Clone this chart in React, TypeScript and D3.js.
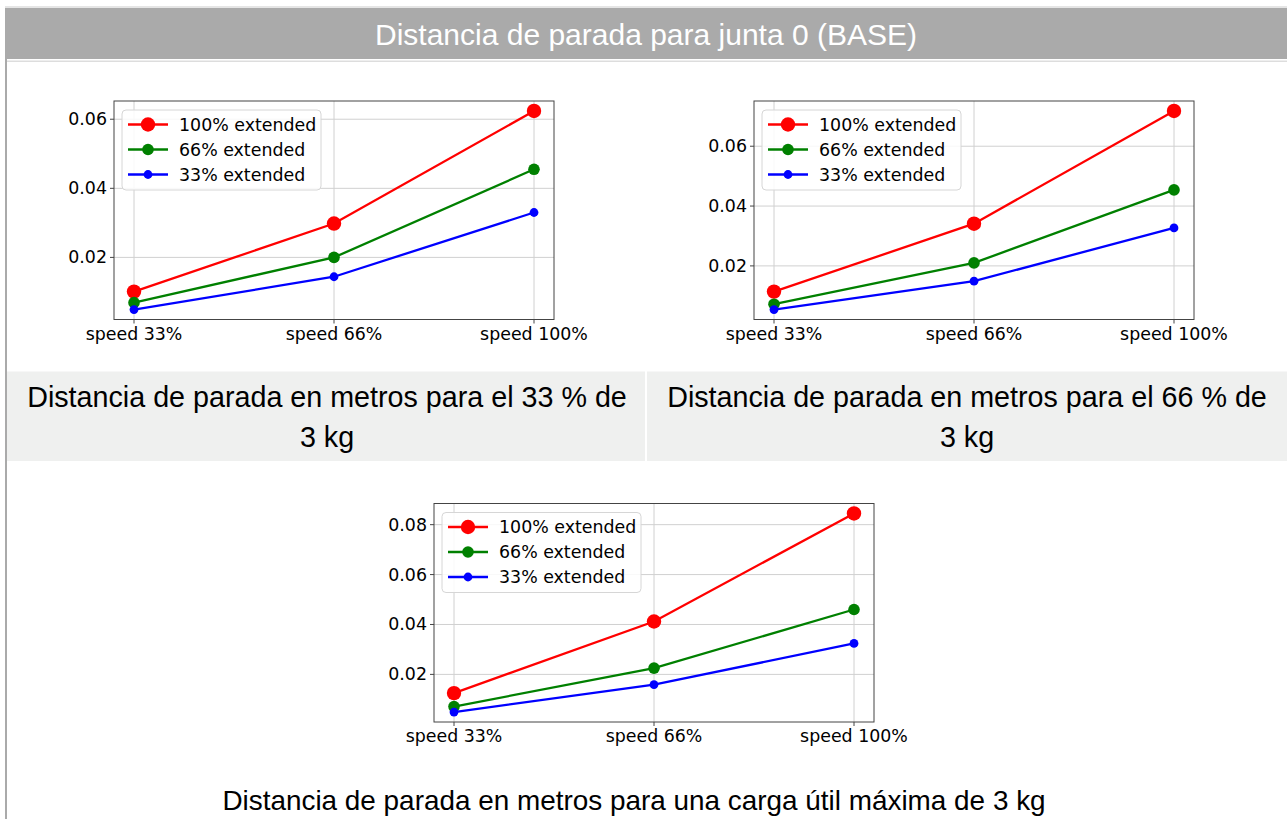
import React from "react";
import * as d3 from "d3";

const categories = ["speed 33%", "speed 66%", "speed 100%"];
const seriesNames = ["100% extended", "66% extended", "33% extended"];
const seriesColors = ["#ff0000", "#008000", "#0000ff"];
const seriesRadius = [7.2, 5.8, 4.4];

const chart1Ext100 = [0.0101, 0.0298, 0.0624];
const chart1Ext66 = [0.0069, 0.02, 0.0455];
const chart1Ext33 = [0.0049, 0.0144, 0.033];

const chart2Ext100 = [0.0114, 0.0341, 0.0718];
const chart2Ext66 = [0.0072, 0.021, 0.0454];
const chart2Ext33 = [0.0054, 0.0149, 0.0327];

const chart3Ext100 = [0.0125, 0.0412, 0.0845];
const chart3Ext66 = [0.0071, 0.0225, 0.046];
const chart3Ext33 = [0.0049, 0.0159, 0.0324];

const yTicksSmall = [0.02, 0.04, 0.06];
const yTicksLarge = [0.02, 0.04, 0.06, 0.08];

const headerTitle = "Distancia de parada para junta 0 (BASE)";
const caption1 = ["Distancia de parada en metros para el 33 % de", "3 kg"];
const caption2 = ["Distancia de parada en metros para el 66 % de", "3 kg"];
const caption3 = "Distancia de parada en metros para una carga útil máxima de 3 kg";

const PW = 440;
const PH = 218.5;
const TICK_FONT = "DejaVu Sans, sans-serif";
const TICK_SIZE = 17.4;

function LineChart({ x0, y0, series, yTicks }: { x0: number; y0: number; series: number[][]; yTicks: number[] }) {
  const all = series.flat();
  const mn = d3.min(all) as number;
  const mx = d3.max(all) as number;
  const span = mx - mn;
  const y = d3.scaleLinear().domain([mn - 0.05 * span, mx + 0.05 * span]).range([PH, 0]);
  const x = d3.scaleLinear().domain([-0.1, 2.1]).range([0, PW]);
  const line = d3.line<number>().x((_, i) => x(i)).y((d) => y(d));
  const fmt = d3.format(".2f");
  return (
    <g transform={`translate(${x0},${y0})`}>
      {categories.map((c, i) => (
        <line key={"gx" + i} x1={x(i)} x2={x(i)} y1={0} y2={PH} stroke="#d0d0d0" strokeWidth={1} />
      ))}
      {yTicks.map((t) => (
        <line key={"gy" + t} x1={0} x2={PW} y1={y(t)} y2={y(t)} stroke="#d0d0d0" strokeWidth={1} />
      ))}
      {series.map((s, si) => (
        <g key={"s" + si}>
          <path d={line(s) || ""} fill="none" stroke={seriesColors[si]} strokeWidth={2.3} />
          {s.map((v, i) => (
            <circle key={i} cx={x(i)} cy={y(v)} r={seriesRadius[si]} fill={seriesColors[si]} />
          ))}
        </g>
      ))}
      <rect x={0} y={0} width={PW} height={PH} fill="none" stroke="#444" strokeWidth={1} />
      {categories.map((c, i) => (
        <g key={"tx" + i}>
          <line x1={x(i)} x2={x(i)} y1={PH} y2={PH + 4} stroke="#444" />
          <text x={x(i)} y={PH + 20} textAnchor="middle" fontFamily={TICK_FONT} fontSize={TICK_SIZE} fill="#000">
            {c}
          </text>
        </g>
      ))}
      {yTicks.map((t) => (
        <g key={"ty" + t}>
          <line x1={-4} x2={0} y1={y(t)} y2={y(t)} stroke="#444" />
          <text x={-7} y={y(t) + 6} textAnchor="end" fontFamily={TICK_FONT} fontSize={TICK_SIZE} fill="#000">
            {fmt(t)}
          </text>
        </g>
      ))}
      <g transform="translate(8,9)">
        <rect x={0} y={0} width={199} height={80} rx={4} fill="#fff" fillOpacity={0.85} stroke="#d6d6d6" />
        {seriesNames.map((n, i) => (
          <g key={"lg" + i} transform={`translate(0,${14.5 + i * 25})`}>
            <line x1={6} x2={46} y1={0} y2={0} stroke={seriesColors[i]} strokeWidth={2.3} />
            <circle cx={26} cy={0} r={seriesRadius[i]} fill={seriesColors[i]} />
            <text x={57} y={6} fontFamily={TICK_FONT} fontSize={TICK_SIZE} fill="#000">
              {n}
            </text>
          </g>
        ))}
      </g>
    </g>
  );
}

export default function App() {
  const capFont = "Liberation Sans, Arial, sans-serif";
  return (
    <div style={{ position: "absolute", left: 0, top: 0 }}>
      <svg width={1287} height={819} style={{ display: "block", background: "#fff" }}>
        <rect x={5} y={6.5} width={1282} height={1} fill="#cccccc" />
        <rect x={5} y={8} width={1282} height={51} fill="#aaaaaa" />
        <rect x={7} y={60.5} width={1280} height={1.5} fill="#dddddd" />
        <rect x={5} y={59} width={2} height={760} fill="#aaaaaa" />
        <text x={646} y={45} textAnchor="middle" fontFamily={capFont} fontSize={30} fill="#fff">
          {headerTitle}
        </text>

        <LineChart x0={114} y0={101} series={[chart1Ext100, chart1Ext66, chart1Ext33]} yTicks={yTicksSmall} />
        <LineChart x0={754} y0={101} series={[chart2Ext100, chart2Ext66, chart2Ext33]} yTicks={yTicksSmall} />
        <LineChart x0={434} y0={503.5} series={[chart3Ext100, chart3Ext66, chart3Ext33]} yTicks={yTicksLarge} />

        <rect x={7} y={371.5} width={638} height={89.5} fill="#eff0ef" />
        <rect x={647} y={371.5} width={640} height={89.5} fill="#eff0ef" />
        <text x={327} y={407} textAnchor="middle" fontFamily={capFont} fontSize={28.7} fill="#000">
          {caption1[0]}
        </text>
        <text x={327} y={447} textAnchor="middle" fontFamily={capFont} fontSize={28.7} fill="#000">
          {caption1[1]}
        </text>
        <text x={967} y={407} textAnchor="middle" fontFamily={capFont} fontSize={28.7} fill="#000">
          {caption2[0]}
        </text>
        <text x={967} y={447} textAnchor="middle" fontFamily={capFont} fontSize={28.7} fill="#000">
          {caption2[1]}
        </text>
        <text x={634} y={810} textAnchor="middle" fontFamily={capFont} fontSize={27.9} fill="#000">
          {caption3}
        </text>
      </svg>
    </div>
  );
}
